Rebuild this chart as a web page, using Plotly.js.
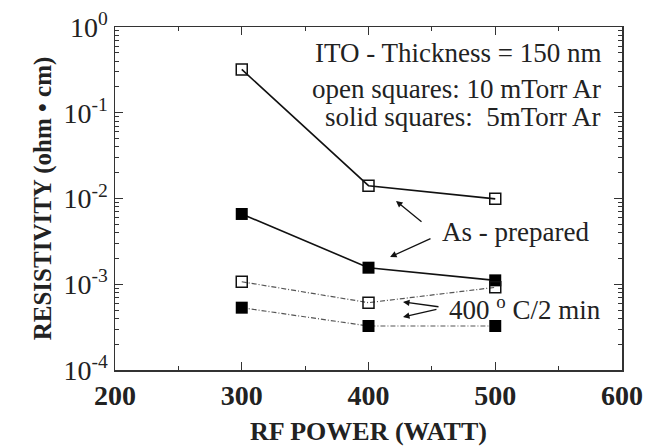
<!DOCTYPE html>
<html>
<head>
<meta charset="utf-8">
<script src="https://cdn.plot.ly/plotly-3.0.1.min.js"></script>
<style>html,body{margin:0;padding:0;background:#fff}#chart{width:645px;height:446px}</style>
</head>
<body>
<div id="chart"></div>
<script>
// RF power (W)
var power = [300, 400, 500];
// Resistivity (ohm·cm)
var openAsPrepared  = [0.32, 0.0141, 0.0099];     // 10 mTorr Ar, as-prepared
var solidAsPrepared = [0.0066, 0.00156, 0.00111]; // 5 mTorr Ar, as-prepared
var openAnnealed    = [0.00107, 0.00061, 0.00092];// 10 mTorr Ar, 400 °C / 2 min
var solidAnnealed   = [0.000533, 0.000326, 0.000326]; // 5 mTorr Ar, 400 °C / 2 min

var yDecades = [-4, -3, -2, -1, 0];
var yTickText = ["10<sup>-4</sup>", "10<sup>-3</sup>", "10<sup>-2</sup>", "10<sup>-1</sup>", "10<sup>0</sup>"];
var xTicks = [200, 300, 400, 500, 600];

var SERIF = "Liberation Serif";

var yMajor = yDecades.map(function(d){ return Math.pow(10, d); });
var yMinor = [];
for (var d = -4; d < 0; d++) { for (var k = 2; k <= 9; k++) yMinor.push(k * Math.pow(10, d)); }

function trace(y, open, solid) {
  return {
    x: power, y: y, type: 'scatter', mode: 'lines+markers',
    line: solid ? {color: '#111', width: 1.6} : {color: '#555', width: 1.2, dash: '5px,2px,1px,2px'},
    marker: open ? {symbol: 'square-open', size: 11, color: '#111', line: {width: 1.5, color: '#111'}}
                 : {symbol: 'square', size: 12, color: '#000'},
    showlegend: false, hoverinfo: 'skip'
  };
}

var data = [
  trace(openAsPrepared, true, true),
  trace(solidAsPrepared, false, true),
  trace(openAnnealed, true, false),
  trace(solidAnnealed, false, false)
];

function arrow(hx, hy, tx, ty) {
  return {x: hx, y: hy, ax: tx, ay: ty, xref: 'x', yref: 'y', axref: 'x', ayref: 'y',
          text: '', showarrow: true, arrowhead: 2, arrowsize: 1, arrowwidth: 1.3, arrowcolor: '#111'};
}
function label(txt, px, py, anchor) {
  return {text: txt, xref: 'paper', yref: 'paper', x: px, y: py, xanchor: anchor, yanchor: 'middle',
          showarrow: false, font: {family: SERIF, size: 27, color: '#222'}};
}

var layout = {
  width: 645, height: 446,
  margin: {l: 115, r: 23, t: 27, b: 76},
  paper_bgcolor: '#fff', plot_bgcolor: '#fff',
  font: {family: SERIF, color: '#222'},
  xaxis: {
    range: [200, 600], tickvals: xTicks, ticks: 'inside', ticklen: 8, tickwidth: 1.2, tickcolor: '#333',
    showline: true, linecolor: '#333', linewidth: 1.5, mirror: 'ticks', showgrid: false, zeroline: false,
    tickfont: {family: SERIF, size: 28, color: '#222', weight: 'bold'},
    minor: {dtick: 50, ticks: 'inside', ticklen: 4, tickcolor: '#333', tickwidth: 1, showgrid: false},
    title: {text: 'RF POWER (WATT)', font: {family: SERIF, size: 26, color: '#222', weight: 'bold'}, standoff: 12}
  },
  yaxis: {
    type: 'log', range: [-4, 0], tickvals: yMajor, ticktext: yTickText,
    ticks: 'inside', ticklen: 8, tickwidth: 1.2, tickcolor: '#333',
    showline: true, linecolor: '#333', linewidth: 1.5, mirror: 'ticks', showgrid: false, zeroline: false,
    tickfont: {family: SERIF, size: 28, color: '#222'},
    minor: {tickvals: yMinor, ticks: 'inside', ticklen: 4, tickcolor: '#333', tickwidth: 1, showgrid: false},
    title: {text: 'RESISTIVITY (ohm • cm)', font: {family: SERIF, size: 25, color: '#222', weight: 'bold'}, standoff: 5}
  },
  annotations: [
    label('ITO - Thickness = 150 nm', 0.9625, 0.924, 'right'),
    label('open squares: 10 mTorr Ar', 0.9625, 0.819, 'right'),
    label('solid squares:  5mTorr Ar', 0.9625, 0.738, 'right'),
    label('As - prepared', 0.789, 0.402, 'center'),
    label('400 <sup>o</sup> C/2 min', 0.809, 0.181, 'center'),
    arrow(421.7, -2.029, 443, -2.286),
    arrow(417, -2.682, 450.1, -2.461),
    arrow(427.2, -3.207, 456.4, -3.265),
    arrow(427.2, -3.382, 454.8, -3.289)
  ]
};

Plotly.newPlot('chart', data, layout, {staticPlot: true, displayModeBar: false});
</script>
</body>
</html>
